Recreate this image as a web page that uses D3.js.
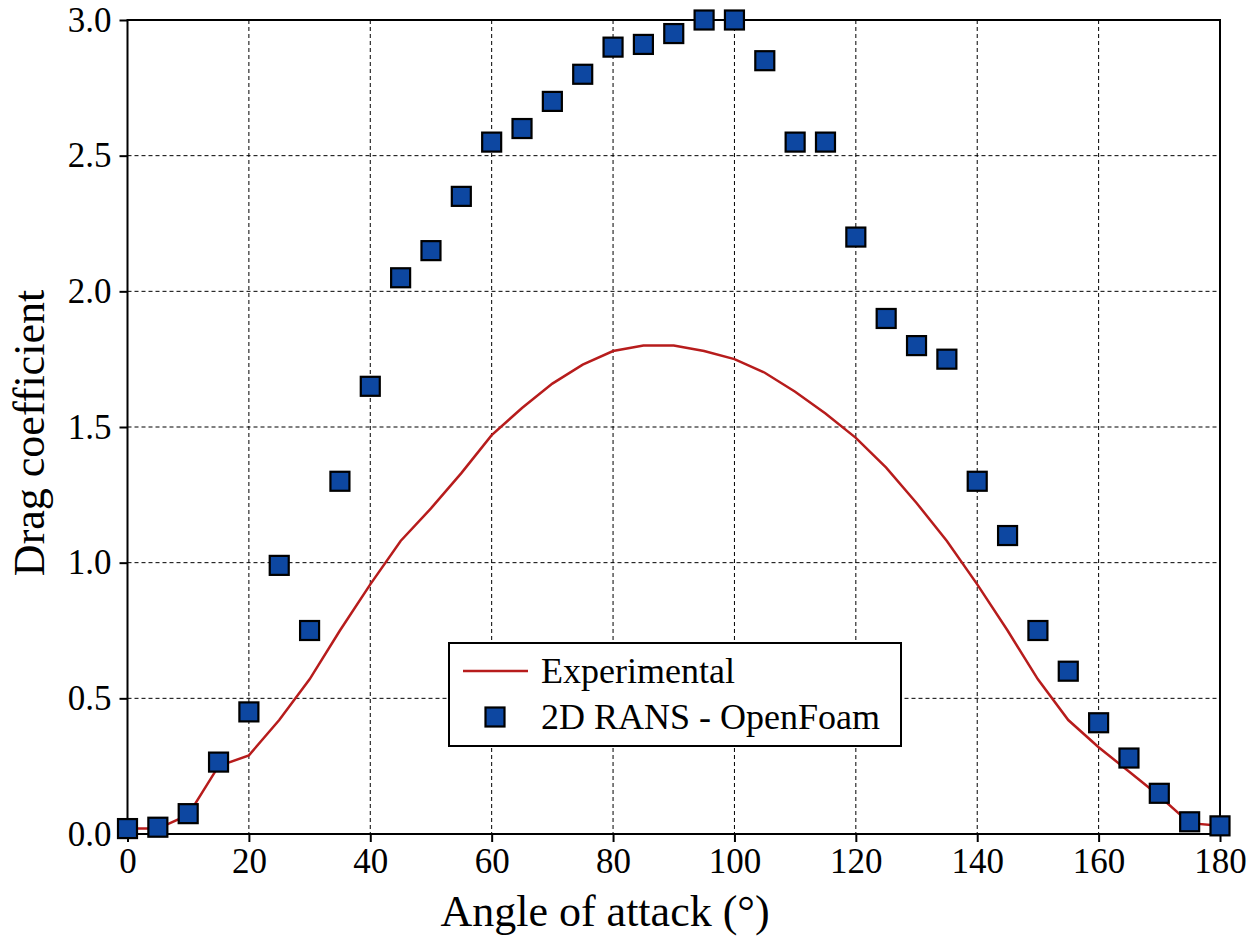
<!DOCTYPE html>
<html>
<head>
<meta charset="utf-8">
<script src="https://cdn.jsdelivr.net/npm/d3@7"></script>
<style>
  body { margin: 0; background: #fff; }
  svg { font-family: "Liberation Serif", "DejaVu Serif", serif; }
</style>
</head>
<body>
<div class="chart"></div>
<script>
// drag coefficient vs angle of attack
var width = 1253;
var height = 943;

var expAngle = [0, 5, 10, 15, 20, 25, 30, 35, 40, 45, 50, 55, 60, 65, 70, 75, 80, 85, 90,
  95, 100, 105, 110, 115, 120, 125, 130, 135, 140, 145, 150, 155, 160, 165, 170, 175, 180];
var expCd = [0.02, 0.02, 0.07, 0.25, 0.29, 0.42, 0.57, 0.75, 0.92, 1.08, 1.2, 1.33, 1.47, 1.57, 1.66, 1.73, 1.78, 1.80, 1.80,
  1.78, 1.75, 1.70, 1.63, 1.55, 1.46, 1.35, 1.22, 1.08, 0.92, 0.75, 0.57, 0.42, 0.32, 0.23, 0.14, 0.04, 0.03];

var ransAngle = [0, 5, 10, 15, 20, 25, 30, 35, 40, 45, 50, 55, 60, 65, 70, 75, 80, 85, 90,
  95, 100, 105, 110, 115, 120, 125, 130, 135, 140, 145, 150, 155, 160, 165, 170, 175, 180];
var ransCd = [0.02, 0.025, 0.075, 0.265, 0.45, 0.99, 0.75, 1.30, 1.65, 2.05, 2.15, 2.35, 2.55, 2.60, 2.70, 2.80, 2.90, 2.91, 2.95,
  3.00, 3.00, 2.85, 2.55, 2.55, 2.20, 1.90, 1.80, 1.75, 1.30, 1.10, 0.75, 0.60, 0.41, 0.28, 0.15, 0.045, 0.03];

var xTicks = [0, 20, 40, 60, 80, 100, 120, 140, 160, 180];
var yTicks = [0.0, 0.5, 1.0, 1.5, 2.0, 2.5, 3.0];

var pL = 127.5, pR = 1220, pT = 20, pB = 834;

var x = d3.scaleLinear().domain([0, 180]).range([pL, pR]);
var y = d3.scaleLinear().domain([0, 3]).range([pB, pT]);

var svg = d3.select('.chart').append('svg')
  .attr('width', width).attr('height', height);

// grid
svg.append('g').selectAll('line')
  .data(xTicks).enter().append('line')
  .attr('x1', d => x(d)).attr('x2', d => x(d))
  .attr('y1', pT).attr('y2', pB)
  .attr('stroke', '#000').attr('stroke-width', 1).attr('stroke-dasharray', '4,3');
svg.append('g').selectAll('line')
  .data(yTicks).enter().append('line')
  .attr('y1', d => y(d)).attr('y2', d => y(d))
  .attr('x1', pL).attr('x2', pR)
  .attr('stroke', '#000').attr('stroke-width', 1).attr('stroke-dasharray', '4,3');

// axes
var xAxis = svg.append('g')
  .attr('transform', `translate(0,${pB})`)
  .call(d3.axisBottom(x).tickValues(xTicks).tickSize(8).tickPadding(6).tickFormat(d3.format('d')));
var yAxis = svg.append('g')
  .attr('transform', `translate(${pL},0)`)
  .call(d3.axisLeft(y).tickValues(yTicks).tickSize(8).tickPadding(8).tickFormat(d3.format('.1f')));

[xAxis, yAxis].forEach(a => {
  a.select('.domain').remove();
  a.selectAll('.tick line').attr('stroke', '#000').attr('stroke-width', 2);
  a.selectAll('.tick text').attr('fill', '#000')
    .style('font-size', '35px').style('font-family', '"Liberation Serif", serif');
});

// frame
svg.append('rect')
  .attr('x', pL).attr('y', pT)
  .attr('width', pR - pL).attr('height', pB - pT)
  .attr('fill', 'none').attr('stroke', '#000').attr('stroke-width', 2);

// experimental line
var line = d3.line().x((d, i) => x(expAngle[i])).y(d => y(d));
svg.append('path')
  .datum(expCd)
  .attr('d', line)
  .attr('fill', 'none').attr('stroke', '#b71c1c').attr('stroke-width', 2.5);

// RANS markers
var ms = 19;
svg.append('g').selectAll('rect')
  .data(ransCd).enter().append('rect')
  .attr('x', (d, i) => x(ransAngle[i]) - ms / 2)
  .attr('y', d => y(d) - ms / 2)
  .attr('width', ms).attr('height', ms)
  .attr('fill', '#0d47a1').attr('stroke', '#000').attr('stroke-width', 2.2);

// axis labels
svg.append('text')
  .attr('x', 605).attr('y', 926)
  .attr('text-anchor', 'middle')
  .style('font-size', '44px')
  .text('Angle of attack (°)');

svg.append('text')
  .attr('transform', `translate(44,${(pT + pB) / 2 + 6}) rotate(-90)`)
  .attr('text-anchor', 'middle')
  .style('font-size', '44px')
  .text('Drag coefficient');

// legend
var lg = svg.append('g');
lg.append('rect')
  .attr('x', 449).attr('y', 643).attr('width', 452).attr('height', 103)
  .attr('fill', '#fff').attr('stroke', '#000').attr('stroke-width', 2);
lg.append('line')
  .attr('x1', 463).attr('x2', 528).attr('y1', 671).attr('y2', 671)
  .attr('stroke', '#b71c1c').attr('stroke-width', 2.5);
lg.append('rect')
  .attr('x', 495 - ms / 2).attr('y', 717 - ms / 2).attr('width', ms).attr('height', ms)
  .attr('fill', '#0d47a1').attr('stroke', '#000').attr('stroke-width', 2.2);
lg.append('text').attr('x', 541).attr('y', 683).style('font-size', '36px').text('Experimental');
lg.append('text').attr('x', 541).attr('y', 729).style('font-size', '36px').text('2D RANS - OpenFoam');
</script>
</body>
</html>
